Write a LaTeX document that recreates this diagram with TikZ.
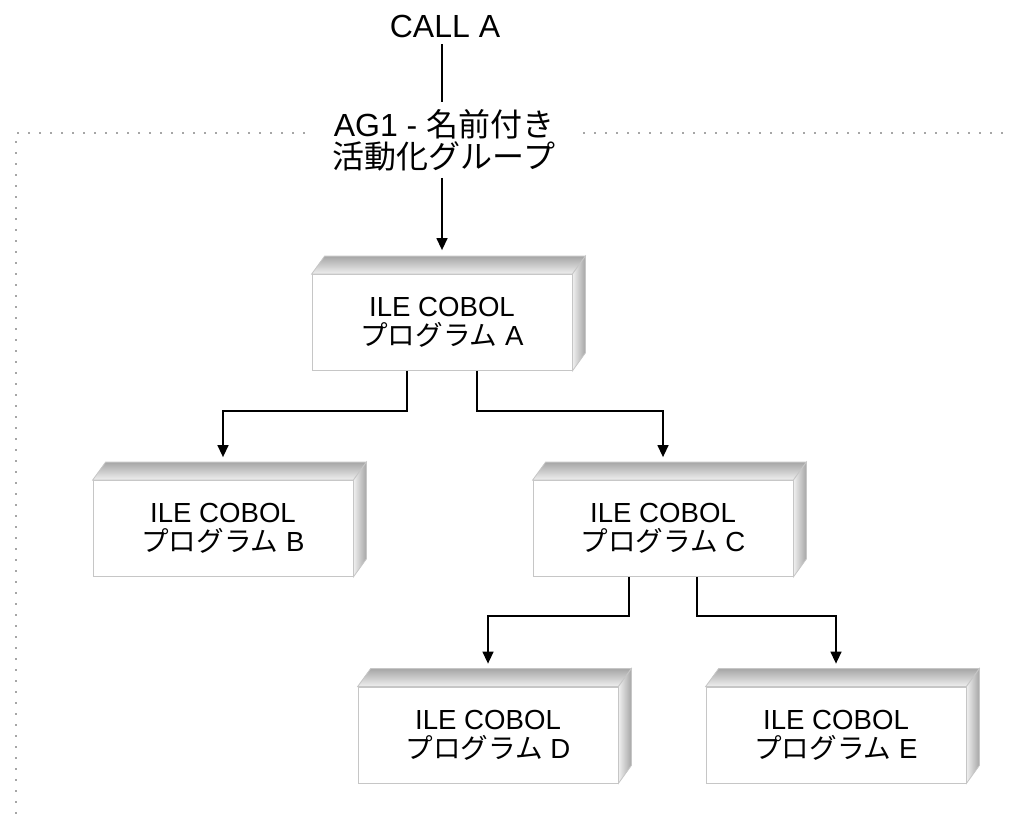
\documentclass[tikz,border=0pt]{standalone}
\usepackage{fontspec}
\setmainfont{Liberation Sans}
\newfontfamily\jafont{Noto Sans CJK JP}
\usetikzlibrary{arrows.meta}
% top and right faces of a program block
\newcommand\slab[1]{%
\shade[top color=gray!70,bottom color=gray!12,draw=gray!45](#1.north west)--++(6.5pt,9pt)--([shift={(6.5pt,9pt)}]#1.north east)--(#1.north east)--cycle;
\shade[left color=gray!12,right color=gray!70,draw=gray!45](#1.north east)--++(6.5pt,9pt)--([shift={(6.5pt,9pt)}]#1.south east)--(#1.south east)--cycle;}
\begin{document}
\begin{tikzpicture}
[x=.5pt,y=-.5pt, prog/.style={draw=gray!45,fill=white,minimum width=130pt,minimum height=48pt,inner sep=0pt,align=center,font=\fontsize{13.8}{14.5}\selectfont},
lbl/.style={align=center,font=\fontsize{16}{16}\selectfont},
ln/.style={line width=.7pt},arr/.style={ln,-{Triangle[length=6pt,width=5.5pt]}},
frm/.style={gray!70,line width=.8pt,dash pattern=on .8pt off 4.7pt}]
\useasboundingbox(0,0)rectangle(1011,815);
\draw[frm](305,133)--(16,133)--(16,815);\draw[frm](583,133)--(1011,133);
\node(call) at (445,26)[lbl]{CALL A};
\node(ag) at (444,140)[lbl]{AG1 - {\jafont 名前付き}\\{\jafont 活動化グループ}};
\node(a) at (442,322.5)[prog]{ILE COBOL\\{\jafont プログラム} A};\slab{a}
\node(b) at (223,528.5)[prog]{ILE COBOL\\{\jafont プログラム} B};\slab{b}
\node(c) at (663,528.5)[prog]{ILE COBOL\\{\jafont プログラム} C};\slab{c}
\node(d) at (488,735)[prog]{ILE COBOL\\{\jafont プログラム} D};\slab{d}
\node(e) at (836,735)[prog]{ILE COBOL\\{\jafont プログラム} E};\slab{e}
\draw[ln](call.south-|a.north)--(ag.north-|a.north);\draw[arr](ag.south-|a.north)--([yshift=12pt]a.north);
\draw[arr]([xshift=-17.5pt]a.south)--++(0,40)-|([yshift=11.5pt]b.north);
\draw[arr]([xshift=17.5pt]a.south)--++(0,40)-|([yshift=11.5pt]c.north);
\draw[arr]([xshift=-17pt]c.south)--++(0,39)-|([yshift=11.5pt]d.north);
\draw[arr]([xshift=17pt]c.south)--++(0,39)-|([yshift=11.5pt]e.north);
\end{tikzpicture}
\end{document}
